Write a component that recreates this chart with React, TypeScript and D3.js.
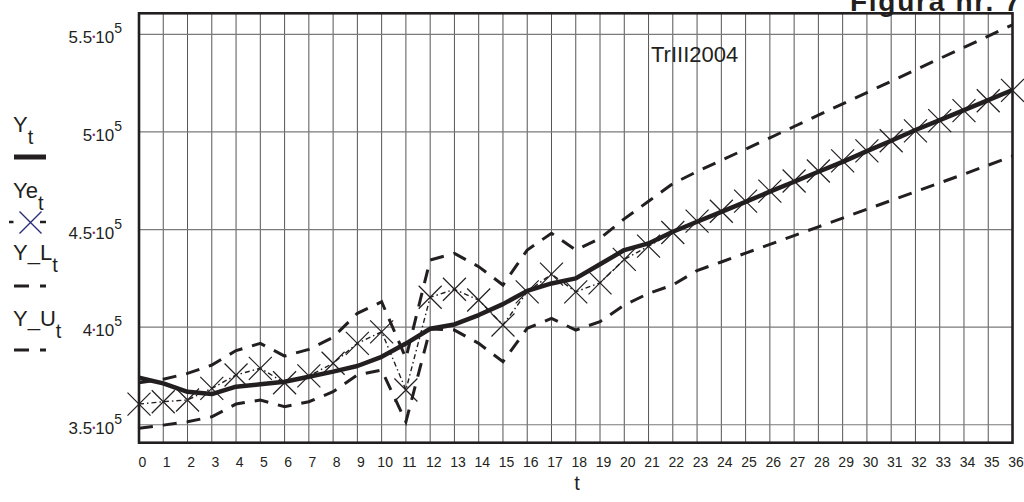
import React from 'react';
import * as d3 from 'd3';

// time index
const T = [0,1,2,3,4,5,6,7,8,9,10,11,12,13,14,15,16,17,18,19,20,21,22,23,24,25,26,27,28,29,30,31,32,33,34,35,36];
// values in thousands
const Yt = [374.1,371.2,366.9,365.7,369.5,370.7,372.0,374.6,377.2,380.1,384.8,391.6,399.2,401.4,406.2,411.8,418.6,422.4,425.0,432.2,439.5,442.9,448.9,454.0,459.1,464.2,469.4,474.5,479.6,484.7,490.2,495.5,501.0,506.1,511.2,516.3,521.5];
const Ye = [360.6,361.8,362.7,368.6,375.5,378.9,371.5,375.0,381.5,391.7,397.6,367.8,415.3,419.4,413.9,401.1,418.1,427.2,418.1,422.7,434.7,441.5,448.5,454.3,459.4,464.6,469.7,474.9,480.0,485.2,490.3,495.5,500.6,505.8,510.9,516.0,521.3];
const YL = [348.2,349.8,351.5,354.1,360.6,362.7,359.2,361.8,366.9,375.5,378.0,351.5,399.0,398.5,391.7,382.3,399.4,404.5,398.5,402.8,411.3,417.3,421.6,429.0,433.4,437.9,442.4,446.9,451.4,455.9,460.4,464.9,469.4,473.9,478.4,483.0,487.6];
const YU = [371.5,373.3,376.3,380.6,388.0,391.7,385.2,388.6,394.8,407.1,413.0,384.1,434.4,437.8,431.0,421.6,439.5,448.1,439.5,445.5,455.5,464.5,473.5,479.7,485.5,491.2,497.0,502.8,508.6,514.4,520.2,526.0,531.8,537.6,543.3,549.1,554.9];

const yTickValues = [350000, 400000, 450000, 500000, 550000];
const yTickMantissa = ['3.5', '4', '4.5', '5', '5.5'];
const yTickExponent = '5';
const xTickLabels = T.map(String);

const FONT = "'Liberation Sans', Arial, Helvetica, sans-serif";
const INK = '#231f20';

export default function App() {
  const x = d3.scaleLinear().domain([0, 36]).range([139, 1012.5]);
  const y = d3.scaleLinear().domain([340800, 560800]).range([442.7, 13.3]);
  const line = (arr: number[]) =>
    d3.line<number>().x((_, i) => x(T[i])).y((d) => y(d * 1000))(arr) as string;
  const [x0, x1] = x.range();
  const [yb, yt] = y.range();

  const legend = [
    { name: 'Y', sub: 't', base: 132 },
    { name: 'Ye', sub: 't', base: 198 },
    { name: 'Y_L', sub: 't', base: 260 },
    { name: 'Y_U', sub: 't', base: 326 },
  ];

  return (
    <svg width={1024} height={502} style={{ position: 'absolute', left: 0, top: 0, background: '#fff' }} fontFamily={FONT}>
      <rect x={0} y={0} width={1024} height={502} fill="#fff" />
      {/* grid */}
      {T.map((t) => (
        <line key={'vg' + t} x1={x(t)} x2={x(t)} y1={yt} y2={yb} stroke="#555" strokeWidth={1} />
      ))}
      {yTickValues.map((v) => (
        <line key={'hg' + v} x1={x0} x2={x1} y1={y(v)} y2={y(v)} stroke="#7a7a7a" strokeWidth={1.2} />
      ))}

      {/* series */}
      <path d={line(Yt)} fill="none" stroke={INK} strokeWidth={4.5} strokeLinejoin="round" />
      <path d={line(Ye)} fill="none" stroke={INK} strokeWidth={1.4} strokeDasharray="5,3,1.5,3" />
      {Ye.map((v, i) => {
        const cx = x(T[i]);
        const cy = y(v * 1000);
        const s = 11.5;
        return (
          <path key={'m' + i} d={`M${cx - s},${cy - s}L${cx + s},${cy + s}M${cx - s},${cy + s}L${cx + s},${cy - s}`}
            stroke={INK} strokeWidth={1.2} fill="none" />
        );
      })}
      <path d={line(YL)} fill="none" stroke={INK} strokeWidth={3} strokeDasharray="14,10" />
      <path d={line(YU)} fill="none" stroke={INK} strokeWidth={3} strokeDasharray="14,10" />

      {/* frame */}
      <rect x={x0} y={yt} width={x1 - x0} height={yb - yt} fill="none" stroke={INK} strokeWidth={2.6} />

      {/* y tick labels */}
      {yTickValues.map((v, i) => (
        <text key={'yl' + v} x={122} y={y(v) + 9} textAnchor="end" fontSize={17} fill={INK}>
          <tspan>{yTickMantissa[i]}</tspan>
          <tspan fill="#8a2b7a" fontSize={9} dy={-3}>•</tspan>
          <tspan dy={3}>10</tspan>
          <tspan fontSize={14} dy={-10}>{yTickExponent}</tspan>
        </text>
      ))}

      {/* x tick labels */}
      {T.map((t, i) => (
        <text key={'xl' + t} x={x(t) + 3.5} y={467} textAnchor="middle" fontSize={14} fill={INK}>
          {xTickLabels[i]}
        </text>
      ))}
      <text x={577} y={490} textAnchor="middle" fontSize={20} fill={INK}>t</text>

      {/* annotation */}
      <text x={651} y={62} fontSize={22} fill={INK}>TrIII2004</text>
      <text x={850} y={11} fontSize={28} fontWeight="bold" fill={INK} textLength={170} lengthAdjust="spacing">Figura nr. 7</text>

      {/* legend */}
      {legend.map((l) => (
        <text key={l.name} x={13} y={l.base} fontSize={22} fill={INK}>
          {l.name}
          <tspan fontSize={20} dy={12}>{l.sub}</tspan>
        </text>
      ))}
      <line x1={14} x2={46} y1={157} y2={157} stroke={INK} strokeWidth={5} />
      <line x1={9} x2={46} y1={222} y2={222} stroke={INK} strokeWidth={2.5} strokeDasharray="4.5,26.5,6" />
      <path d="M19.5,211.5L41.5,233.5M19.5,233.5L41.5,211.5" stroke="#2b2d7c" strokeWidth={1.4} fill="none" />
      <line x1={14} x2={46} y1={286} y2={286} stroke={INK} strokeWidth={3.2} strokeDasharray="15,11" />
      <line x1={14} x2={46} y1={350} y2={350} stroke={INK} strokeWidth={3.2} strokeDasharray="15,11" />
    </svg>
  );
}
